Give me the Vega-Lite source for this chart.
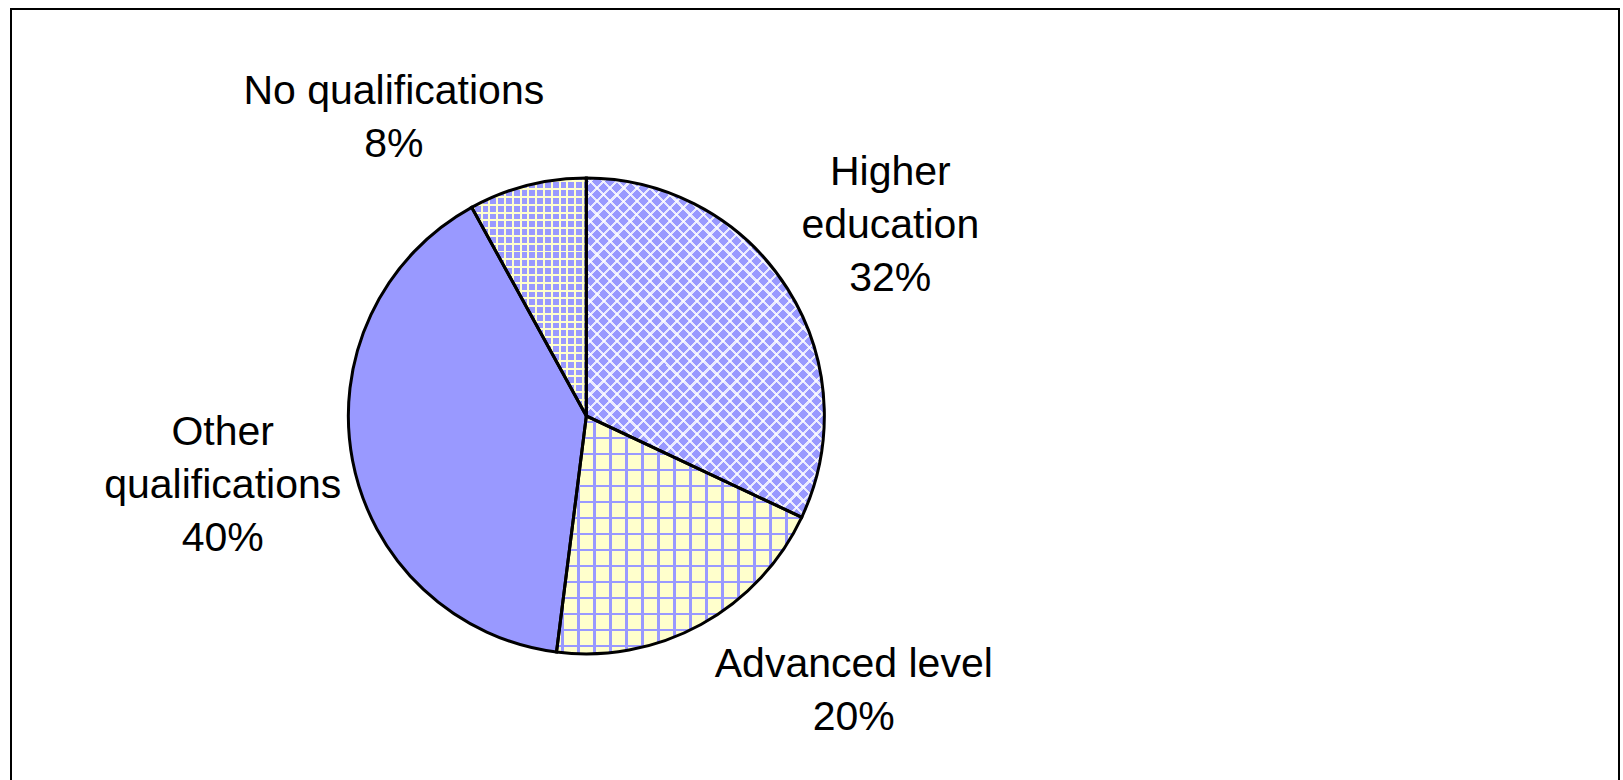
{
  "$schema": "https://vega.github.io/schema/vega-lite/v6.json",
  "width": 1623,
  "height": 780,
  "autosize": {"type": "fit", "contains": "padding"},
  "padding": {"left": 10, "top": 8, "right": 3, "bottom": -6},
  "background": "white",
  "config": {"view": {"stroke": null}},
  "data": {"values": [
    {"category": "Higher education", "value": 32, "rank": 1, "label": "Higher\neducation\n32%"},
    {"category": "Advanced level", "value": 20, "rank": 2, "label": "Advanced level\n20%"},
    {"category": "Other qualifications", "value": 40, "rank": 3, "label": "Other\nqualifications\n40%"},
    {"category": "No qualifications", "value": 8, "rank": 4, "label": "No qualifications\n8%"}
  ]},
  "transform": [
    {"stack": "value", "groupby": [], "sort": [{"field": "rank", "order": "ascending"}], "as": ["v0", "v1"]}
  ],
  "layer": [
    {
      "mark": {"type": "arc", "outerRadius": 238, "strokeWidth": 0,
               "x": {"expr": "width*0.3578"}, "y": {"expr": "height*0.5244"}},
      "encoding": {
        "theta": {"field": "v0", "type": "quantitative", "scale": {"domain": [0, 100]}},
        "theta2": {"field": "v1"},
        "fill": {"field": "category", "type": "nominal", "legend": null,
                 "scale": {"domain": ["Higher education", "Advanced level", "Other qualifications", "No qualifications"],
                           "range": ["#9999FF", "#FFFFCC", "#9999FF", "#9999FF"]}}
      }
    },
    {
      "transform": [{"filter": "datum.category === 'Advanced level'"}],
      "mark": {"type": "arc", "outerRadius": 238, "strokeWidth": 0,
               "x": {"expr": "width*0.3578"}, "y": {"expr": "height*0.5244"},
               "fill": {"gradient": "linear", "x1": 0, "y1": 0, "x2": 1, "y2": 0, "stops": [
{"offset":0.0200,"color":"transparent"},{"offset":0.0200,"color":"#9999FF"},{"offset":0.0302,"color":"#9999FF"},{"offset":0.0302,"color":"transparent"},
{"offset":0.0853,"color":"transparent"},{"offset":0.0853,"color":"#9999FF"},{"offset":0.0955,"color":"#9999FF"},{"offset":0.0955,"color":"transparent"},
{"offset":0.1505,"color":"transparent"},{"offset":0.1505,"color":"#9999FF"},{"offset":0.1607,"color":"#9999FF"},{"offset":0.1607,"color":"transparent"},
{"offset":0.2158,"color":"transparent"},{"offset":0.2158,"color":"#9999FF"},{"offset":0.2260,"color":"#9999FF"},{"offset":0.2260,"color":"transparent"},
{"offset":0.2810,"color":"transparent"},{"offset":0.2810,"color":"#9999FF"},{"offset":0.2912,"color":"#9999FF"},{"offset":0.2912,"color":"transparent"},
{"offset":0.3463,"color":"transparent"},{"offset":0.3463,"color":"#9999FF"},{"offset":0.3565,"color":"#9999FF"},{"offset":0.3565,"color":"transparent"},
{"offset":0.4115,"color":"transparent"},{"offset":0.4115,"color":"#9999FF"},{"offset":0.4217,"color":"#9999FF"},{"offset":0.4217,"color":"transparent"},
{"offset":0.4768,"color":"transparent"},{"offset":0.4768,"color":"#9999FF"},{"offset":0.4870,"color":"#9999FF"},{"offset":0.4870,"color":"transparent"},
{"offset":0.5420,"color":"transparent"},{"offset":0.5420,"color":"#9999FF"},{"offset":0.5522,"color":"#9999FF"},{"offset":0.5522,"color":"transparent"},
{"offset":0.6073,"color":"transparent"},{"offset":0.6073,"color":"#9999FF"},{"offset":0.6175,"color":"#9999FF"},{"offset":0.6175,"color":"transparent"},
{"offset":0.6725,"color":"transparent"},{"offset":0.6725,"color":"#9999FF"},{"offset":0.6827,"color":"#9999FF"},{"offset":0.6827,"color":"transparent"},
{"offset":0.7378,"color":"transparent"},{"offset":0.7378,"color":"#9999FF"},{"offset":0.7480,"color":"#9999FF"},{"offset":0.7480,"color":"transparent"},
{"offset":0.8030,"color":"transparent"},{"offset":0.8030,"color":"#9999FF"},{"offset":0.8132,"color":"#9999FF"},{"offset":0.8132,"color":"transparent"},
{"offset":0.8683,"color":"transparent"},{"offset":0.8683,"color":"#9999FF"},{"offset":0.8785,"color":"#9999FF"},{"offset":0.8785,"color":"transparent"},
{"offset":0.9335,"color":"transparent"},{"offset":0.9335,"color":"#9999FF"},{"offset":0.9437,"color":"#9999FF"},{"offset":0.9437,"color":"transparent"}
               ]}},
      "encoding": {
        "theta": {"field": "v0", "type": "quantitative", "scale": {"domain": [0, 100]}},
        "theta2": {"field": "v1"}
      }
    },
    {
      "transform": [{"filter": "datum.category === 'Advanced level'"}],
      "mark": {"type": "arc", "outerRadius": 238, "strokeWidth": 0,
               "x": {"expr": "width*0.3578"}, "y": {"expr": "height*0.5244"},
               "fill": {"gradient": "linear", "x1": 0, "y1": 0, "x2": 0, "y2": 1, "stops": [
{"offset":0.0200,"color":"transparent"},{"offset":0.0200,"color":"#9999FF"},{"offset":0.0305,"color":"#9999FF"},{"offset":0.0305,"color":"transparent"},
{"offset":0.0872,"color":"transparent"},{"offset":0.0872,"color":"#9999FF"},{"offset":0.0977,"color":"#9999FF"},{"offset":0.0977,"color":"transparent"},
{"offset":0.1544,"color":"transparent"},{"offset":0.1544,"color":"#9999FF"},{"offset":0.1649,"color":"#9999FF"},{"offset":0.1649,"color":"transparent"},
{"offset":0.2216,"color":"transparent"},{"offset":0.2216,"color":"#9999FF"},{"offset":0.2321,"color":"#9999FF"},{"offset":0.2321,"color":"transparent"},
{"offset":0.2888,"color":"transparent"},{"offset":0.2888,"color":"#9999FF"},{"offset":0.2993,"color":"#9999FF"},{"offset":0.2993,"color":"transparent"},
{"offset":0.3560,"color":"transparent"},{"offset":0.3560,"color":"#9999FF"},{"offset":0.3665,"color":"#9999FF"},{"offset":0.3665,"color":"transparent"},
{"offset":0.4232,"color":"transparent"},{"offset":0.4232,"color":"#9999FF"},{"offset":0.4337,"color":"#9999FF"},{"offset":0.4337,"color":"transparent"},
{"offset":0.4904,"color":"transparent"},{"offset":0.4904,"color":"#9999FF"},{"offset":0.5009,"color":"#9999FF"},{"offset":0.5009,"color":"transparent"},
{"offset":0.5576,"color":"transparent"},{"offset":0.5576,"color":"#9999FF"},{"offset":0.5681,"color":"#9999FF"},{"offset":0.5681,"color":"transparent"},
{"offset":0.6248,"color":"transparent"},{"offset":0.6248,"color":"#9999FF"},{"offset":0.6353,"color":"#9999FF"},{"offset":0.6353,"color":"transparent"},
{"offset":0.6920,"color":"transparent"},{"offset":0.6920,"color":"#9999FF"},{"offset":0.7025,"color":"#9999FF"},{"offset":0.7025,"color":"transparent"},
{"offset":0.7592,"color":"transparent"},{"offset":0.7592,"color":"#9999FF"},{"offset":0.7697,"color":"#9999FF"},{"offset":0.7697,"color":"transparent"},
{"offset":0.8264,"color":"transparent"},{"offset":0.8264,"color":"#9999FF"},{"offset":0.8369,"color":"#9999FF"},{"offset":0.8369,"color":"transparent"},
{"offset":0.8936,"color":"transparent"},{"offset":0.8936,"color":"#9999FF"},{"offset":0.9041,"color":"#9999FF"},{"offset":0.9041,"color":"transparent"},
{"offset":0.9608,"color":"transparent"},{"offset":0.9608,"color":"#9999FF"},{"offset":0.9713,"color":"#9999FF"},{"offset":0.9713,"color":"transparent"}
               ]}},
      "encoding": {
        "theta": {"field": "v0", "type": "quantitative", "scale": {"domain": [0, 100]}},
        "theta2": {"field": "v1"}
      }
    },
    {
      "transform": [{"filter": "datum.category === 'No qualifications'"}],
      "mark": {"type": "arc", "outerRadius": 238, "strokeWidth": 0,
               "x": {"expr": "width*0.3578"}, "y": {"expr": "height*0.5244"},
               "fill": {"gradient": "linear", "x1": 0, "y1": 0, "x2": 1, "y2": 0, "stops": [
{"offset":0.0100,"color":"transparent"},{"offset":0.0100,"color":"#FFFFCC"},{"offset":0.0275,"color":"#FFFFCC"},{"offset":0.0275,"color":"transparent"},
{"offset":0.0781,"color":"transparent"},{"offset":0.0781,"color":"#FFFFCC"},{"offset":0.0955,"color":"#FFFFCC"},{"offset":0.0955,"color":"transparent"},
{"offset":0.1461,"color":"transparent"},{"offset":0.1461,"color":"#FFFFCC"},{"offset":0.1636,"color":"#FFFFCC"},{"offset":0.1636,"color":"transparent"},
{"offset":0.2142,"color":"transparent"},{"offset":0.2142,"color":"#FFFFCC"},{"offset":0.2316,"color":"#FFFFCC"},{"offset":0.2316,"color":"transparent"},
{"offset":0.2822,"color":"transparent"},{"offset":0.2822,"color":"#FFFFCC"},{"offset":0.2997,"color":"#FFFFCC"},{"offset":0.2997,"color":"transparent"},
{"offset":0.3503,"color":"transparent"},{"offset":0.3503,"color":"#FFFFCC"},{"offset":0.3678,"color":"#FFFFCC"},{"offset":0.3678,"color":"transparent"},
{"offset":0.4184,"color":"transparent"},{"offset":0.4184,"color":"#FFFFCC"},{"offset":0.4358,"color":"#FFFFCC"},{"offset":0.4358,"color":"transparent"},
{"offset":0.4864,"color":"transparent"},{"offset":0.4864,"color":"#FFFFCC"},{"offset":0.5039,"color":"#FFFFCC"},{"offset":0.5039,"color":"transparent"},
{"offset":0.5545,"color":"transparent"},{"offset":0.5545,"color":"#FFFFCC"},{"offset":0.5719,"color":"#FFFFCC"},{"offset":0.5719,"color":"transparent"},
{"offset":0.6225,"color":"transparent"},{"offset":0.6225,"color":"#FFFFCC"},{"offset":0.6400,"color":"#FFFFCC"},{"offset":0.6400,"color":"transparent"},
{"offset":0.6906,"color":"transparent"},{"offset":0.6906,"color":"#FFFFCC"},{"offset":0.7081,"color":"#FFFFCC"},{"offset":0.7081,"color":"transparent"},
{"offset":0.7587,"color":"transparent"},{"offset":0.7587,"color":"#FFFFCC"},{"offset":0.7761,"color":"#FFFFCC"},{"offset":0.7761,"color":"transparent"},
{"offset":0.8267,"color":"transparent"},{"offset":0.8267,"color":"#FFFFCC"},{"offset":0.8442,"color":"#FFFFCC"},{"offset":0.8442,"color":"transparent"},
{"offset":0.8948,"color":"transparent"},{"offset":0.8948,"color":"#FFFFCC"},{"offset":0.9122,"color":"#FFFFCC"},{"offset":0.9122,"color":"transparent"},
{"offset":0.9628,"color":"transparent"},{"offset":0.9628,"color":"#FFFFCC"},{"offset":0.9803,"color":"#FFFFCC"},{"offset":0.9803,"color":"transparent"}
               ]}},
      "encoding": {
        "theta": {"field": "v0", "type": "quantitative", "scale": {"domain": [0, 100]}},
        "theta2": {"field": "v1"}
      }
    },
    {
      "transform": [{"filter": "datum.category === 'No qualifications'"}],
      "mark": {"type": "arc", "outerRadius": 238, "strokeWidth": 0,
               "x": {"expr": "width*0.3578"}, "y": {"expr": "height*0.5244"},
               "fill": {"gradient": "linear", "x1": 0, "y1": 0, "x2": 0, "y2": 1, "stops": [
{"offset":0.0100,"color":"transparent"},{"offset":0.0100,"color":"#FFFFCC"},{"offset":0.0184,"color":"#FFFFCC"},{"offset":0.0184,"color":"transparent"},
{"offset":0.0428,"color":"transparent"},{"offset":0.0428,"color":"#FFFFCC"},{"offset":0.0512,"color":"#FFFFCC"},{"offset":0.0512,"color":"transparent"},
{"offset":0.0755,"color":"transparent"},{"offset":0.0755,"color":"#FFFFCC"},{"offset":0.0839,"color":"#FFFFCC"},{"offset":0.0839,"color":"transparent"},
{"offset":0.1083,"color":"transparent"},{"offset":0.1083,"color":"#FFFFCC"},{"offset":0.1167,"color":"#FFFFCC"},{"offset":0.1167,"color":"transparent"},
{"offset":0.1411,"color":"transparent"},{"offset":0.1411,"color":"#FFFFCC"},{"offset":0.1495,"color":"#FFFFCC"},{"offset":0.1495,"color":"transparent"},
{"offset":0.1739,"color":"transparent"},{"offset":0.1739,"color":"#FFFFCC"},{"offset":0.1823,"color":"#FFFFCC"},{"offset":0.1823,"color":"transparent"},
{"offset":0.2066,"color":"transparent"},{"offset":0.2066,"color":"#FFFFCC"},{"offset":0.2150,"color":"#FFFFCC"},{"offset":0.2150,"color":"transparent"},
{"offset":0.2394,"color":"transparent"},{"offset":0.2394,"color":"#FFFFCC"},{"offset":0.2478,"color":"#FFFFCC"},{"offset":0.2478,"color":"transparent"},
{"offset":0.2722,"color":"transparent"},{"offset":0.2722,"color":"#FFFFCC"},{"offset":0.2806,"color":"#FFFFCC"},{"offset":0.2806,"color":"transparent"},
{"offset":0.3049,"color":"transparent"},{"offset":0.3049,"color":"#FFFFCC"},{"offset":0.3133,"color":"#FFFFCC"},{"offset":0.3133,"color":"transparent"},
{"offset":0.3377,"color":"transparent"},{"offset":0.3377,"color":"#FFFFCC"},{"offset":0.3461,"color":"#FFFFCC"},{"offset":0.3461,"color":"transparent"},
{"offset":0.3705,"color":"transparent"},{"offset":0.3705,"color":"#FFFFCC"},{"offset":0.3789,"color":"#FFFFCC"},{"offset":0.3789,"color":"transparent"},
{"offset":0.4032,"color":"transparent"},{"offset":0.4032,"color":"#FFFFCC"},{"offset":0.4116,"color":"#FFFFCC"},{"offset":0.4116,"color":"transparent"},
{"offset":0.4360,"color":"transparent"},{"offset":0.4360,"color":"#FFFFCC"},{"offset":0.4444,"color":"#FFFFCC"},{"offset":0.4444,"color":"transparent"},
{"offset":0.4688,"color":"transparent"},{"offset":0.4688,"color":"#FFFFCC"},{"offset":0.4772,"color":"#FFFFCC"},{"offset":0.4772,"color":"transparent"},
{"offset":0.5016,"color":"transparent"},{"offset":0.5016,"color":"#FFFFCC"},{"offset":0.5100,"color":"#FFFFCC"},{"offset":0.5100,"color":"transparent"},
{"offset":0.5343,"color":"transparent"},{"offset":0.5343,"color":"#FFFFCC"},{"offset":0.5427,"color":"#FFFFCC"},{"offset":0.5427,"color":"transparent"},
{"offset":0.5671,"color":"transparent"},{"offset":0.5671,"color":"#FFFFCC"},{"offset":0.5755,"color":"#FFFFCC"},{"offset":0.5755,"color":"transparent"},
{"offset":0.5999,"color":"transparent"},{"offset":0.5999,"color":"#FFFFCC"},{"offset":0.6083,"color":"#FFFFCC"},{"offset":0.6083,"color":"transparent"},
{"offset":0.6326,"color":"transparent"},{"offset":0.6326,"color":"#FFFFCC"},{"offset":0.6410,"color":"#FFFFCC"},{"offset":0.6410,"color":"transparent"},
{"offset":0.6654,"color":"transparent"},{"offset":0.6654,"color":"#FFFFCC"},{"offset":0.6738,"color":"#FFFFCC"},{"offset":0.6738,"color":"transparent"},
{"offset":0.6982,"color":"transparent"},{"offset":0.6982,"color":"#FFFFCC"},{"offset":0.7066,"color":"#FFFFCC"},{"offset":0.7066,"color":"transparent"},
{"offset":0.7309,"color":"transparent"},{"offset":0.7309,"color":"#FFFFCC"},{"offset":0.7393,"color":"#FFFFCC"},{"offset":0.7393,"color":"transparent"},
{"offset":0.7637,"color":"transparent"},{"offset":0.7637,"color":"#FFFFCC"},{"offset":0.7721,"color":"#FFFFCC"},{"offset":0.7721,"color":"transparent"},
{"offset":0.7965,"color":"transparent"},{"offset":0.7965,"color":"#FFFFCC"},{"offset":0.8049,"color":"#FFFFCC"},{"offset":0.8049,"color":"transparent"},
{"offset":0.8293,"color":"transparent"},{"offset":0.8293,"color":"#FFFFCC"},{"offset":0.8377,"color":"#FFFFCC"},{"offset":0.8377,"color":"transparent"},
{"offset":0.8620,"color":"transparent"},{"offset":0.8620,"color":"#FFFFCC"},{"offset":0.8704,"color":"#FFFFCC"},{"offset":0.8704,"color":"transparent"},
{"offset":0.8948,"color":"transparent"},{"offset":0.8948,"color":"#FFFFCC"},{"offset":0.9032,"color":"#FFFFCC"},{"offset":0.9032,"color":"transparent"},
{"offset":0.9276,"color":"transparent"},{"offset":0.9276,"color":"#FFFFCC"},{"offset":0.9360,"color":"#FFFFCC"},{"offset":0.9360,"color":"transparent"},
{"offset":0.9603,"color":"transparent"},{"offset":0.9603,"color":"#FFFFCC"},{"offset":0.9687,"color":"#FFFFCC"},{"offset":0.9687,"color":"transparent"}
               ]}},
      "encoding": {
        "theta": {"field": "v0", "type": "quantitative", "scale": {"domain": [0, 100]}},
        "theta2": {"field": "v1"}
      }
    },
    {
      "transform": [{"filter": "datum.category === 'Higher education'"}],
      "mark": {"type": "arc", "outerRadius": 238, "strokeWidth": 0, "fillOpacity": 0.8,
               "x": {"expr": "width*0.3578"}, "y": {"expr": "height*0.5244"},
               "fill": {"gradient": "linear", "x1": 0, "y1": 0, "x2": 0.8004, "y2": 1.1401, "stops": [
{"offset":0.0100,"color":"transparent"},{"offset":0.0100,"color":"white"},{"offset":0.0155,"color":"white"},{"offset":0.0155,"color":"transparent"},
{"offset":0.0330,"color":"transparent"},{"offset":0.0330,"color":"white"},{"offset":0.0385,"color":"white"},{"offset":0.0385,"color":"transparent"},
{"offset":0.0561,"color":"transparent"},{"offset":0.0561,"color":"white"},{"offset":0.0616,"color":"white"},{"offset":0.0616,"color":"transparent"},
{"offset":0.0791,"color":"transparent"},{"offset":0.0791,"color":"white"},{"offset":0.0846,"color":"white"},{"offset":0.0846,"color":"transparent"},
{"offset":0.1022,"color":"transparent"},{"offset":0.1022,"color":"white"},{"offset":0.1077,"color":"white"},{"offset":0.1077,"color":"transparent"},
{"offset":0.1252,"color":"transparent"},{"offset":0.1252,"color":"white"},{"offset":0.1307,"color":"white"},{"offset":0.1307,"color":"transparent"},
{"offset":0.1482,"color":"transparent"},{"offset":0.1482,"color":"white"},{"offset":0.1537,"color":"white"},{"offset":0.1537,"color":"transparent"},
{"offset":0.1713,"color":"transparent"},{"offset":0.1713,"color":"white"},{"offset":0.1768,"color":"white"},{"offset":0.1768,"color":"transparent"},
{"offset":0.1943,"color":"transparent"},{"offset":0.1943,"color":"white"},{"offset":0.1998,"color":"white"},{"offset":0.1998,"color":"transparent"},
{"offset":0.2174,"color":"transparent"},{"offset":0.2174,"color":"white"},{"offset":0.2229,"color":"white"},{"offset":0.2229,"color":"transparent"},
{"offset":0.2404,"color":"transparent"},{"offset":0.2404,"color":"white"},{"offset":0.2459,"color":"white"},{"offset":0.2459,"color":"transparent"},
{"offset":0.2634,"color":"transparent"},{"offset":0.2634,"color":"white"},{"offset":0.2689,"color":"white"},{"offset":0.2689,"color":"transparent"},
{"offset":0.2865,"color":"transparent"},{"offset":0.2865,"color":"white"},{"offset":0.2920,"color":"white"},{"offset":0.2920,"color":"transparent"},
{"offset":0.3095,"color":"transparent"},{"offset":0.3095,"color":"white"},{"offset":0.3150,"color":"white"},{"offset":0.3150,"color":"transparent"},
{"offset":0.3326,"color":"transparent"},{"offset":0.3326,"color":"white"},{"offset":0.3381,"color":"white"},{"offset":0.3381,"color":"transparent"},
{"offset":0.3556,"color":"transparent"},{"offset":0.3556,"color":"white"},{"offset":0.3611,"color":"white"},{"offset":0.3611,"color":"transparent"},
{"offset":0.3786,"color":"transparent"},{"offset":0.3786,"color":"white"},{"offset":0.3841,"color":"white"},{"offset":0.3841,"color":"transparent"},
{"offset":0.4017,"color":"transparent"},{"offset":0.4017,"color":"white"},{"offset":0.4072,"color":"white"},{"offset":0.4072,"color":"transparent"},
{"offset":0.4247,"color":"transparent"},{"offset":0.4247,"color":"white"},{"offset":0.4302,"color":"white"},{"offset":0.4302,"color":"transparent"},
{"offset":0.4478,"color":"transparent"},{"offset":0.4478,"color":"white"},{"offset":0.4533,"color":"white"},{"offset":0.4533,"color":"transparent"},
{"offset":0.4708,"color":"transparent"},{"offset":0.4708,"color":"white"},{"offset":0.4763,"color":"white"},{"offset":0.4763,"color":"transparent"},
{"offset":0.4938,"color":"transparent"},{"offset":0.4938,"color":"white"},{"offset":0.4993,"color":"white"},{"offset":0.4993,"color":"transparent"},
{"offset":0.5169,"color":"transparent"},{"offset":0.5169,"color":"white"},{"offset":0.5224,"color":"white"},{"offset":0.5224,"color":"transparent"},
{"offset":0.5399,"color":"transparent"},{"offset":0.5399,"color":"white"},{"offset":0.5454,"color":"white"},{"offset":0.5454,"color":"transparent"},
{"offset":0.5630,"color":"transparent"},{"offset":0.5630,"color":"white"},{"offset":0.5685,"color":"white"},{"offset":0.5685,"color":"transparent"},
{"offset":0.5860,"color":"transparent"},{"offset":0.5860,"color":"white"},{"offset":0.5915,"color":"white"},{"offset":0.5915,"color":"transparent"},
{"offset":0.6090,"color":"transparent"},{"offset":0.6090,"color":"white"},{"offset":0.6145,"color":"white"},{"offset":0.6145,"color":"transparent"},
{"offset":0.6321,"color":"transparent"},{"offset":0.6321,"color":"white"},{"offset":0.6376,"color":"white"},{"offset":0.6376,"color":"transparent"},
{"offset":0.6551,"color":"transparent"},{"offset":0.6551,"color":"white"},{"offset":0.6606,"color":"white"},{"offset":0.6606,"color":"transparent"},
{"offset":0.6782,"color":"transparent"},{"offset":0.6782,"color":"white"},{"offset":0.6837,"color":"white"},{"offset":0.6837,"color":"transparent"},
{"offset":0.7012,"color":"transparent"},{"offset":0.7012,"color":"white"},{"offset":0.7067,"color":"white"},{"offset":0.7067,"color":"transparent"},
{"offset":0.7242,"color":"transparent"},{"offset":0.7242,"color":"white"},{"offset":0.7297,"color":"white"},{"offset":0.7297,"color":"transparent"},
{"offset":0.7473,"color":"transparent"},{"offset":0.7473,"color":"white"},{"offset":0.7528,"color":"white"},{"offset":0.7528,"color":"transparent"},
{"offset":0.7703,"color":"transparent"},{"offset":0.7703,"color":"white"},{"offset":0.7758,"color":"white"},{"offset":0.7758,"color":"transparent"},
{"offset":0.7934,"color":"transparent"},{"offset":0.7934,"color":"white"},{"offset":0.7989,"color":"white"},{"offset":0.7989,"color":"transparent"},
{"offset":0.8164,"color":"transparent"},{"offset":0.8164,"color":"white"},{"offset":0.8219,"color":"white"},{"offset":0.8219,"color":"transparent"},
{"offset":0.8394,"color":"transparent"},{"offset":0.8394,"color":"white"},{"offset":0.8449,"color":"white"},{"offset":0.8449,"color":"transparent"},
{"offset":0.8625,"color":"transparent"},{"offset":0.8625,"color":"white"},{"offset":0.8680,"color":"white"},{"offset":0.8680,"color":"transparent"},
{"offset":0.8855,"color":"transparent"},{"offset":0.8855,"color":"white"},{"offset":0.8910,"color":"white"},{"offset":0.8910,"color":"transparent"},
{"offset":0.9086,"color":"transparent"},{"offset":0.9086,"color":"white"},{"offset":0.9141,"color":"white"},{"offset":0.9141,"color":"transparent"},
{"offset":0.9316,"color":"transparent"},{"offset":0.9316,"color":"white"},{"offset":0.9371,"color":"white"},{"offset":0.9371,"color":"transparent"},
{"offset":0.9546,"color":"transparent"},{"offset":0.9546,"color":"white"},{"offset":0.9601,"color":"white"},{"offset":0.9601,"color":"transparent"},
{"offset":0.9777,"color":"transparent"},{"offset":0.9777,"color":"white"},{"offset":0.9832,"color":"white"},{"offset":0.9832,"color":"transparent"}
               ]}},
      "encoding": {
        "theta": {"field": "v0", "type": "quantitative", "scale": {"domain": [0, 100]}},
        "theta2": {"field": "v1"}
      }
    },
    {
      "transform": [{"filter": "datum.category === 'Higher education'"}],
      "mark": {"type": "arc", "outerRadius": 238, "strokeWidth": 0, "fillOpacity": 0.8,
               "x": {"expr": "width*0.3578"}, "y": {"expr": "height*0.5244"},
               "fill": {"gradient": "linear", "x1": 0, "y1": 1, "x2": 0.8004, "y2": -0.1401, "stops": [
{"offset":0.0100,"color":"transparent"},{"offset":0.0100,"color":"white"},{"offset":0.0155,"color":"white"},{"offset":0.0155,"color":"transparent"},
{"offset":0.0330,"color":"transparent"},{"offset":0.0330,"color":"white"},{"offset":0.0385,"color":"white"},{"offset":0.0385,"color":"transparent"},
{"offset":0.0561,"color":"transparent"},{"offset":0.0561,"color":"white"},{"offset":0.0616,"color":"white"},{"offset":0.0616,"color":"transparent"},
{"offset":0.0791,"color":"transparent"},{"offset":0.0791,"color":"white"},{"offset":0.0846,"color":"white"},{"offset":0.0846,"color":"transparent"},
{"offset":0.1022,"color":"transparent"},{"offset":0.1022,"color":"white"},{"offset":0.1077,"color":"white"},{"offset":0.1077,"color":"transparent"},
{"offset":0.1252,"color":"transparent"},{"offset":0.1252,"color":"white"},{"offset":0.1307,"color":"white"},{"offset":0.1307,"color":"transparent"},
{"offset":0.1482,"color":"transparent"},{"offset":0.1482,"color":"white"},{"offset":0.1537,"color":"white"},{"offset":0.1537,"color":"transparent"},
{"offset":0.1713,"color":"transparent"},{"offset":0.1713,"color":"white"},{"offset":0.1768,"color":"white"},{"offset":0.1768,"color":"transparent"},
{"offset":0.1943,"color":"transparent"},{"offset":0.1943,"color":"white"},{"offset":0.1998,"color":"white"},{"offset":0.1998,"color":"transparent"},
{"offset":0.2174,"color":"transparent"},{"offset":0.2174,"color":"white"},{"offset":0.2229,"color":"white"},{"offset":0.2229,"color":"transparent"},
{"offset":0.2404,"color":"transparent"},{"offset":0.2404,"color":"white"},{"offset":0.2459,"color":"white"},{"offset":0.2459,"color":"transparent"},
{"offset":0.2634,"color":"transparent"},{"offset":0.2634,"color":"white"},{"offset":0.2689,"color":"white"},{"offset":0.2689,"color":"transparent"},
{"offset":0.2865,"color":"transparent"},{"offset":0.2865,"color":"white"},{"offset":0.2920,"color":"white"},{"offset":0.2920,"color":"transparent"},
{"offset":0.3095,"color":"transparent"},{"offset":0.3095,"color":"white"},{"offset":0.3150,"color":"white"},{"offset":0.3150,"color":"transparent"},
{"offset":0.3326,"color":"transparent"},{"offset":0.3326,"color":"white"},{"offset":0.3381,"color":"white"},{"offset":0.3381,"color":"transparent"},
{"offset":0.3556,"color":"transparent"},{"offset":0.3556,"color":"white"},{"offset":0.3611,"color":"white"},{"offset":0.3611,"color":"transparent"},
{"offset":0.3786,"color":"transparent"},{"offset":0.3786,"color":"white"},{"offset":0.3841,"color":"white"},{"offset":0.3841,"color":"transparent"},
{"offset":0.4017,"color":"transparent"},{"offset":0.4017,"color":"white"},{"offset":0.4072,"color":"white"},{"offset":0.4072,"color":"transparent"},
{"offset":0.4247,"color":"transparent"},{"offset":0.4247,"color":"white"},{"offset":0.4302,"color":"white"},{"offset":0.4302,"color":"transparent"},
{"offset":0.4478,"color":"transparent"},{"offset":0.4478,"color":"white"},{"offset":0.4533,"color":"white"},{"offset":0.4533,"color":"transparent"},
{"offset":0.4708,"color":"transparent"},{"offset":0.4708,"color":"white"},{"offset":0.4763,"color":"white"},{"offset":0.4763,"color":"transparent"},
{"offset":0.4938,"color":"transparent"},{"offset":0.4938,"color":"white"},{"offset":0.4993,"color":"white"},{"offset":0.4993,"color":"transparent"},
{"offset":0.5169,"color":"transparent"},{"offset":0.5169,"color":"white"},{"offset":0.5224,"color":"white"},{"offset":0.5224,"color":"transparent"},
{"offset":0.5399,"color":"transparent"},{"offset":0.5399,"color":"white"},{"offset":0.5454,"color":"white"},{"offset":0.5454,"color":"transparent"},
{"offset":0.5630,"color":"transparent"},{"offset":0.5630,"color":"white"},{"offset":0.5685,"color":"white"},{"offset":0.5685,"color":"transparent"},
{"offset":0.5860,"color":"transparent"},{"offset":0.5860,"color":"white"},{"offset":0.5915,"color":"white"},{"offset":0.5915,"color":"transparent"},
{"offset":0.6090,"color":"transparent"},{"offset":0.6090,"color":"white"},{"offset":0.6145,"color":"white"},{"offset":0.6145,"color":"transparent"},
{"offset":0.6321,"color":"transparent"},{"offset":0.6321,"color":"white"},{"offset":0.6376,"color":"white"},{"offset":0.6376,"color":"transparent"},
{"offset":0.6551,"color":"transparent"},{"offset":0.6551,"color":"white"},{"offset":0.6606,"color":"white"},{"offset":0.6606,"color":"transparent"},
{"offset":0.6782,"color":"transparent"},{"offset":0.6782,"color":"white"},{"offset":0.6837,"color":"white"},{"offset":0.6837,"color":"transparent"},
{"offset":0.7012,"color":"transparent"},{"offset":0.7012,"color":"white"},{"offset":0.7067,"color":"white"},{"offset":0.7067,"color":"transparent"},
{"offset":0.7242,"color":"transparent"},{"offset":0.7242,"color":"white"},{"offset":0.7297,"color":"white"},{"offset":0.7297,"color":"transparent"},
{"offset":0.7473,"color":"transparent"},{"offset":0.7473,"color":"white"},{"offset":0.7528,"color":"white"},{"offset":0.7528,"color":"transparent"},
{"offset":0.7703,"color":"transparent"},{"offset":0.7703,"color":"white"},{"offset":0.7758,"color":"white"},{"offset":0.7758,"color":"transparent"},
{"offset":0.7934,"color":"transparent"},{"offset":0.7934,"color":"white"},{"offset":0.7989,"color":"white"},{"offset":0.7989,"color":"transparent"},
{"offset":0.8164,"color":"transparent"},{"offset":0.8164,"color":"white"},{"offset":0.8219,"color":"white"},{"offset":0.8219,"color":"transparent"},
{"offset":0.8394,"color":"transparent"},{"offset":0.8394,"color":"white"},{"offset":0.8449,"color":"white"},{"offset":0.8449,"color":"transparent"},
{"offset":0.8625,"color":"transparent"},{"offset":0.8625,"color":"white"},{"offset":0.8680,"color":"white"},{"offset":0.8680,"color":"transparent"},
{"offset":0.8855,"color":"transparent"},{"offset":0.8855,"color":"white"},{"offset":0.8910,"color":"white"},{"offset":0.8910,"color":"transparent"},
{"offset":0.9086,"color":"transparent"},{"offset":0.9086,"color":"white"},{"offset":0.9141,"color":"white"},{"offset":0.9141,"color":"transparent"},
{"offset":0.9316,"color":"transparent"},{"offset":0.9316,"color":"white"},{"offset":0.9371,"color":"white"},{"offset":0.9371,"color":"transparent"},
{"offset":0.9546,"color":"transparent"},{"offset":0.9546,"color":"white"},{"offset":0.9601,"color":"white"},{"offset":0.9601,"color":"transparent"},
{"offset":0.9777,"color":"transparent"},{"offset":0.9777,"color":"white"},{"offset":0.9832,"color":"white"},{"offset":0.9832,"color":"transparent"}
               ]}},
      "encoding": {
        "theta": {"field": "v0", "type": "quantitative", "scale": {"domain": [0, 100]}},
        "theta2": {"field": "v1"}
      }
    },
    {
      "mark": {"type": "arc", "outerRadius": 238, "stroke": "black", "strokeWidth": 3, "fill": "white", "fillOpacity": 0,
               "x": {"expr": "width*0.3578"}, "y": {"expr": "height*0.5244"}},
      "encoding": {
        "theta": {"field": "v0", "type": "quantitative", "scale": {"domain": [0, 100]}},
        "theta2": {"field": "v1"}
      }
    },
    {
      "mark": {"type": "text", "radius": 360, "font": "Liberation Sans", "fontSize": 41,
               "lineBreak": "\n", "lineHeight": 53, "align": "center", "baseline": "middle", "color": "black",
               "x": {"expr": "width*0.3578"}, "y": {"expr": "height*0.5244"},
               "dx": {"expr": "datum.category === 'Advanced level' ? 94 : datum.category === 'No qualifications' ? -103 : datum.category === 'Other qualifications' ? -10 : 0"},
               "dy": {"expr": "datum.category === 'Advanced level' ? -66 : datum.category === 'No qualifications' ? 25 : -50"}},
      "encoding": {
        "theta": {"field": "value", "type": "quantitative", "stack": true, "scale": {"domain": [0, 100]}},
        "order": {"field": "rank", "type": "quantitative"},
        "text": {"field": "label", "type": "nominal"}
      }
    },
    {
      "mark": {"type": "rect", "fill": null, "stroke": "black", "strokeWidth": 2},
      "encoding": {}
    }
  ]
}
